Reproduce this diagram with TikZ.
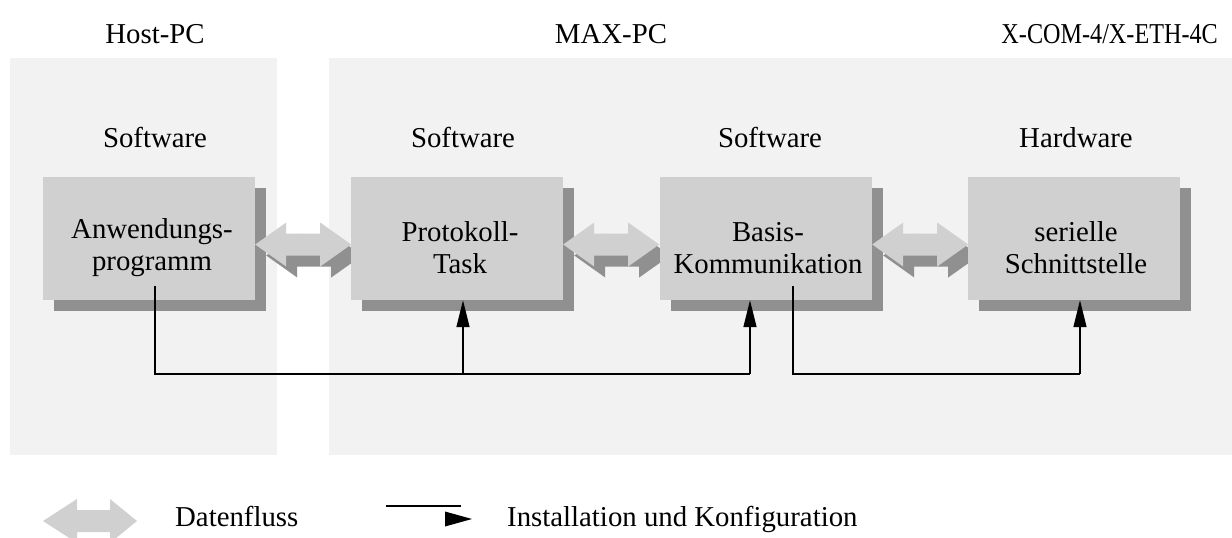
\documentclass[tikz,border=0pt]{standalone}
\usepackage{fontspec}
\setmainfont{Liberation Serif}
\usetikzlibrary{arrows.meta,shadows}
\definecolor{panelgray}{HTML}{F2F2F2}
\definecolor{boxgray}{HTML}{D0D0D0}
\definecolor{shadgray}{HTML}{909090}
\tikzset{
  panel/.style={fill=panelgray},
  box/.style={fill=boxgray, minimum width=212pt, minimum height=123pt, inner sep=0pt,
    general shadow={fill=shadgray, shadow xshift=11pt, shadow yshift=-11pt}},
  txt/.style={font=\fontsize{28.8}{32}\selectfont, align=center, inner sep=0pt},
  conn/.style={line width=1.5pt, black},
  tip/.style={-{Triangle[length=27pt,width=13pt]}},
  flowpair/.pic={
    \fill[shadgray] (11,11) -- (42,-11) -- (42,0) -- (76,0) -- (76,-11) -- (107,11) -- (76,33) -- (76,22) -- (42,22) -- (42,33) -- cycle;
    \fill[boxgray] (0,0) -- (31,-22) -- (31,-11) -- (65,-11) -- (65,-22) -- (96,0) -- (65,22) -- (65,11) -- (31,11) -- (31,22) -- cycle;
  },
  flowlight/.pic={
    \fill[boxgray] (0,0) -- (34,-22) -- (34,-11) -- (67,-11) -- (67,-22) -- (94,0) -- (67,22) -- (67,11) -- (34,11) -- (34,22) -- cycle;
  }
}
\begin{document}
\begin{tikzpicture}[x=1pt,y=-1pt]
\useasboundingbox (0,0) rectangle (1232,538);
% panels
\fill[panel] (10,58) rectangle (277,455);
\fill[panel] (329,58) rectangle (1232,455);
% headers
\node[txt, anchor=base] (h1) at (155,43) {Host-PC};
\node[txt, anchor=base] (h2) at (611,43) {MAX-PC};
\node[txt, anchor=base east, xscale=0.84] (h3) at (1218,43) {X-COM-4/X-ETH-4C};
% layer labels
\node[txt, anchor=base] (l1) at (155,147) {Software};
\node[txt, anchor=base] (l2) at (463,147) {Software};
\node[txt, anchor=base] (l3) at (770,147) {Software};
\node[txt, anchor=base] (l4) at (1076,147) {Hardware};
% boxes
\node[box] (b1) at (149,238.5) {};
\node[box] (b2) at (457,238.5) {};
\node[box] (b3) at (766,238.5) {};
\node[box] (b4) at (1074,238.5) {};
\node[txt] (t1) at (152,248) {Anwendungs-\\programm};
\node[txt] (t2) at (460,248) {Protokoll-\\Task};
\node[txt] (t3) at (768,248) {Basis-\\Kommunikation};
\node[txt] (t4) at (1076,248) {serielle\\Schnittstelle};
% data flow arrows
\begin{scope}
  \clip (b1.east |- 0,0) rectangle (b2.west |- 0,538);
  \pic at (b1.east |- 0,244.5) {flowpair};
\end{scope}
\begin{scope}
  \clip (b2.east |- 0,0) rectangle (b3.west |- 0,538);
  \pic at (b2.east |- 0,244.5) {flowpair};
\end{scope}
\begin{scope}
  \clip (b3.east |- 0,0) rectangle (b4.west |- 0,538);
  \pic at (b3.east |- 0,244.5) {flowpair};
\end{scope}
% installation / configuration connectors
\coordinate (s1) at (155,286);
\coordinate (s3) at (793,286);
\coordinate (j2) at (463,374);
\coordinate (j3) at (750,374);
\coordinate (j4) at (1080,374);
\draw[conn] (s1) |- (j3);
\draw[conn, tip] (j2) -- (j2 |- b2.south);
\draw[conn, tip] (j3) -- (j3 |- b3.south);
\draw[conn] (s3) |- (j4);
\draw[conn, tip] (j4) -- (j4 |- b4.south);
% legend
\pic at (43,521) {flowlight};
\node[txt, anchor=base west] (lg1) at (175,526) {Datenfluss};
\coordinate (la) at (386,506);
\coordinate (lb) at (461,506);
\draw[conn] (la) -- (lb);
\fill[black] (445,511.5) -- (472,519) -- (445,526.5) -- cycle;
\node[txt, anchor=base west] (lg2) at (507,526) {Installation und Konfiguration};
\end{tikzpicture}
\end{document}
